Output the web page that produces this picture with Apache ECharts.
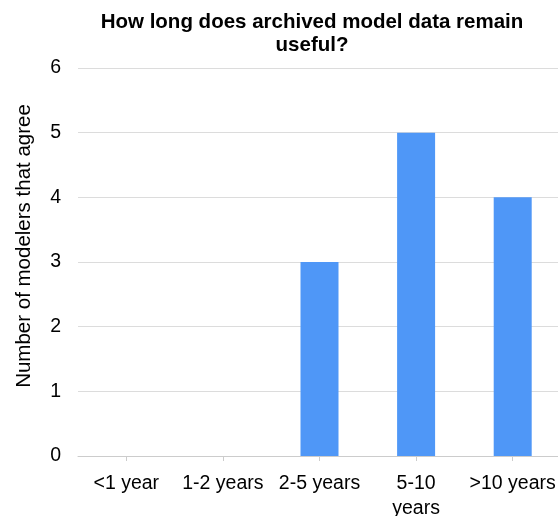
<!DOCTYPE html>
<html>
<head>
<meta charset="utf-8">
<script src="https://cdn.jsdelivr.net/npm/echarts@6/dist/echarts.min.js"></script>
<style>
  html, body { margin: 0; padding: 0; background: #fff; }
  #chart { width: 558px; height: 516px; }
</style>
</head>
<body>
<div id="chart"></div>
<script>
var categories = ['<1 year', '1-2 years', '2-5 years', '5-10 years', '>10 years'];
var counts = [0, 0, 3, 5, 4];
var yTicks = [0, 1, 2, 3, 4, 5, 6];

var myChart = echarts.init(document.getElementById('chart'));
var font = 'Liberation Sans, Arial, sans-serif';

var option = {
  animation: false,
  textStyle: { fontFamily: font },
  title: {
    text: 'How long does archived model data remain\nuseful?',
    left: 307,
    top: 6,
    textAlign: 'center',
    textStyle: {
      fontFamily: font,
      fontSize: 20.5,
      fontWeight: 'bold',
      color: '#000',
      lineHeight: 23
    }
  },
  grid: {
    left: 78,
    right: -3,
    top: 68,
    bottom: 60,
    containLabel: false,
    outerBoundsMode: 'none'
  },
  xAxis: {
    type: 'category',
    data: categories,
    axisLine: { lineStyle: { color: '#cccccc' } },
    axisTick: { show: true, alignWithLabel: true, length: 5, lineStyle: { color: '#cccccc' } },
    axisLabel: {
      interval: 0,
      margin: 15,
      fontSize: 19.5,
      color: '#000',
      lineHeight: 25,
      formatter: function (v) { return v.replace('5-10 ', '5-10\n'); }
    }
  },
  yAxis: {
    type: 'value',
    min: yTicks[0],
    max: yTicks[yTicks.length - 1],
    interval: 1,
    name: 'Number of modelers that agree',
    nameLocation: 'middle',
    nameGap: 43,
    nameTextStyle: { fontSize: 20.5, color: '#000', padding: [0, 0, 0, 32] },
    axisLine: { show: false },
    axisTick: { show: false },
    axisLabel: { fontSize: 19.5, color: '#000', margin: 17 },
    splitLine: { lineStyle: { color: '#dcdcdc' } }
  },
  series: [{
    type: 'bar',
    data: counts,
    barWidth: 38,
    itemStyle: { color: '#4f97f7' }
  }]
};
myChart.setOption(option);
</script>
</body>
</html>
